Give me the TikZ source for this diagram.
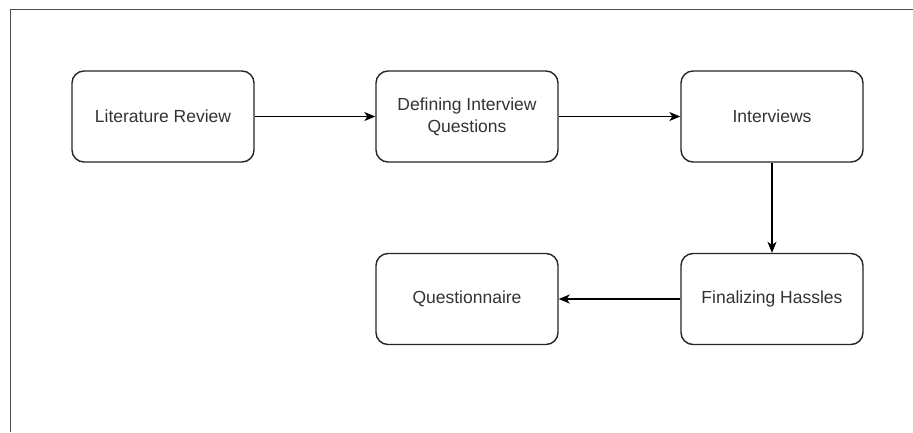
\documentclass[tikz,border=0pt]{standalone}
\usepackage{fontspec}
\setmainfont{Liberation Sans}
\usetikzlibrary{arrows.meta}
\begin{document}
\begin{tikzpicture}[x=1bp,y=-1bp,
  procbox/.style={draw=black!85, line width=1.4bp, rounded corners=12bp, minimum width=182bp, minimum height=91bp, inner sep=0pt, align=center, font=\fontsize{17.5bp}{22bp}\selectfont, text=black!80},
  conn/.style={draw=black, line width=1.3bp, -{Stealth[length=11bp,width=9bp,inset=3bp]}}]
\useasboundingbox (0,0) rectangle (913,432);
\fill[white] (0,0) rectangle (913,432);
\draw[draw=black!70, line width=1.5bp] (10.5,432) -- (10.5,9.5) -- (913,9.5);
\node[procbox] (lit) at (163,116.5) {Literature Review};
\node[procbox] (def) at (467,116.5) {Defining Interview\\Questions};
\node[procbox] (int) at (772,116.5) {Interviews};
\node[procbox] (fin) at (772,299) {Finalizing Hassles};
\node[procbox] (que) at (467,299) {Questionnaire};
\draw[conn] (lit) -- (def);
\draw[conn] (def) -- (int);
\draw[conn] (int) -- (fin);
\draw[conn] (fin) -- (que);
\end{tikzpicture}
\end{document}
